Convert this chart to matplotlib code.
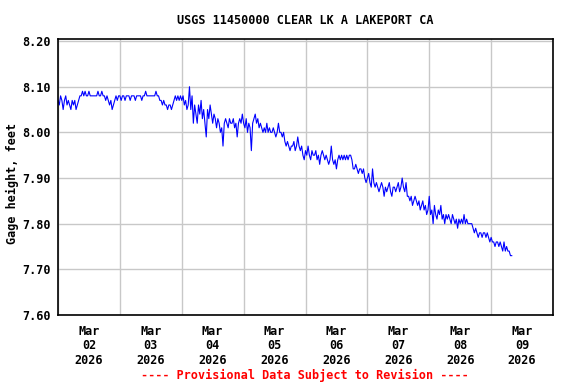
import numpy as np
import pandas as pd
import matplotlib
matplotlib.use("Agg")
import matplotlib.pyplot as plt
import matplotlib.dates as mdates

# gage height, feet, every 30 minutes starting 2026-03-02 00:00
mar02 = [8.07, 8.06, 8.08, 8.07, 8.05, 8.07, 8.08, 8.06, 8.07, 8.06, 8.05, 8.07,
         8.06, 8.07, 8.05, 8.06, 8.07, 8.08, 8.08, 8.09, 8.08, 8.09, 8.08, 8.08,
         8.09, 8.08, 8.08, 8.08, 8.08, 8.08, 8.08, 8.09, 8.08, 8.08, 8.09, 8.08,
         8.08, 8.07, 8.08, 8.07, 8.06, 8.07, 8.05, 8.06, 8.07, 8.08, 8.07, 8.08]
mar03 = [8.08, 8.07, 8.08, 8.08, 8.07, 8.08, 8.08, 8.08, 8.07, 8.08, 8.08, 8.08,
         8.07, 8.08, 8.08, 8.08, 8.08, 8.07, 8.08, 8.08, 8.09, 8.08, 8.08, 8.08,
         8.08, 8.08, 8.08, 8.08, 8.09, 8.08, 8.08, 8.07, 8.07, 8.06, 8.07, 8.06,
         8.06, 8.05, 8.06, 8.06, 8.05, 8.06, 8.07, 8.08, 8.07, 8.08, 8.07, 8.08]
mar04 = [8.07, 8.08, 8.06, 8.07, 8.05, 8.06, 8.10, 8.05, 8.08, 8.02, 8.06, 8.04,
         8.02, 8.06, 8.04, 8.07, 8.03, 8.05, 8.02, 7.99, 8.05, 8.03, 8.06, 8.04,
         8.02, 8.04, 8.03, 8.01, 8.03, 8.02, 8.00, 8.01, 7.97, 8.02, 8.03, 8.02,
         8.01, 8.03, 8.02, 8.02, 8.03, 8.01, 8.02, 7.99, 8.02, 8.03, 8.02, 8.04]
mar05 = [8.02, 8.01, 8.03, 8.00, 8.02, 8.01, 7.96, 8.02, 8.03, 8.04, 8.02, 8.03,
         8.01, 8.02, 8.01, 8.00, 8.01, 8.00, 8.02, 8.00, 8.01, 8.00, 8.00, 8.01,
         8.00, 7.99, 8.00, 8.02, 8.00, 8.00, 7.99, 8.00, 7.98, 7.97, 7.98, 7.97,
         7.96, 7.97, 7.97, 7.98, 7.96, 7.97, 7.99, 7.97, 7.96, 7.97, 7.95, 7.94]
mar06 = [7.96, 7.95, 7.97, 7.95, 7.94, 7.96, 7.95, 7.95, 7.96, 7.94, 7.95, 7.93,
         7.95, 7.96, 7.95, 7.94, 7.95, 7.94, 7.93, 7.94, 7.97, 7.94, 7.93, 7.94,
         7.92, 7.94, 7.95, 7.94, 7.95, 7.94, 7.95, 7.94, 7.95, 7.94, 7.95, 7.95,
         7.94, 7.92, 7.92, 7.93, 7.92, 7.91, 7.92, 7.92, 7.91, 7.92, 7.90, 7.89]
mar07 = [7.90, 7.91, 7.89, 7.88, 7.92, 7.89, 7.88, 7.89, 7.88, 7.87, 7.88, 7.89,
         7.88, 7.86, 7.88, 7.87, 7.88, 7.89, 7.87, 7.86, 7.88, 7.88, 7.87, 7.88,
         7.89, 7.87, 7.88, 7.90, 7.88, 7.87, 7.89, 7.86, 7.86, 7.85, 7.86, 7.84,
         7.85, 7.86, 7.85, 7.84, 7.85, 7.83, 7.84, 7.85, 7.83, 7.84, 7.82, 7.83]
mar08 = [7.86, 7.82, 7.83, 7.80, 7.84, 7.82, 7.81, 7.83, 7.82, 7.84, 7.81, 7.82,
         7.80, 7.82, 7.81, 7.82, 7.81, 7.80, 7.82, 7.81, 7.80, 7.81, 7.79, 7.81,
         7.80, 7.81, 7.80, 7.82, 7.80, 7.81, 7.80, 7.80, 7.80, 7.80, 7.79, 7.78,
         7.79, 7.78, 7.77, 7.78, 7.78, 7.77, 7.78, 7.78, 7.77, 7.78, 7.77, 7.76]
mar09 = [7.77, 7.76, 7.76, 7.75, 7.76, 7.76, 7.75, 7.76, 7.75, 7.74, 7.76, 7.74,
         7.75, 7.74, 7.74, 7.73, 7.73]

gage = np.array(mar02 + mar03 + mar04 + mar05 + mar06 + mar07 + mar08 + mar09)
times = pd.date_range("2026-03-02 00:00", periods=len(gage), freq="30min")
yticks = [7.60, 7.70, 7.80, 7.90, 8.00, 8.10, 8.20]

font = "DejaVu Sans Mono"
fig = plt.figure(figsize=(5.76, 3.84), dpi=100)
ax = fig.add_axes([58/576, 1-315/384, (553-58)/576, (315-39)/384])

ax.plot(times, gage, color="#0000ff", linewidth=0.8)

ax.set_xlim(pd.Timestamp("2026-03-02"), pd.Timestamp("2026-03-10"))
ax.set_ylim(7.60, 8.2045)
ax.set_yticks(yticks)
ax.set_yticklabels([f"{v:.2f}" for v in yticks], fontfamily=font,
                   fontweight="bold", fontsize=8.5)

ax.xaxis.set_major_locator(mdates.DayLocator())
ax.xaxis.set_major_formatter(plt.NullFormatter())
ax.xaxis.set_minor_locator(mdates.HourLocator(byhour=12))
ax.xaxis.set_minor_formatter(mdates.DateFormatter("%b\n%d\n%Y"))
for lab in ax.xaxis.get_minorticklabels():
    lab.set_fontfamily(font)
    lab.set_fontweight("bold")
    lab.set_fontsize(8.5)
    lab.set_linespacing(1.15)
ax.tick_params(axis="both", which="both", length=0)
ax.tick_params(axis="x", which="minor", pad=7)
ax.tick_params(axis="y", pad=5)

ax.grid(True, which="major", color="#c8c8c8", linewidth=1.0)
ax.set_axisbelow(True)
for s in ax.spines.values():
    s.set_linewidth(1.2)
    s.set_color("black")

ax.set_ylabel("Gage height, feet", fontfamily=font, fontweight="bold",
              fontsize=8.5)
ax.yaxis.set_label_coords(-0.079, 0.478)
fig.text(305/576, 1-20/384, "USGS 11450000 CLEAR LK A LAKEPORT CA",
         ha="center", va="center", fontfamily=font, fontweight="bold", fontsize=8.5)
fig.text(305/576, 1-375/384, "---- Provisional Data Subject to Revision ----",
         ha="center", va="center", fontfamily=font, fontweight="bold",
         fontsize=8.5, color="red")

fig.savefig("out.png", dpi=100, facecolor="white")
